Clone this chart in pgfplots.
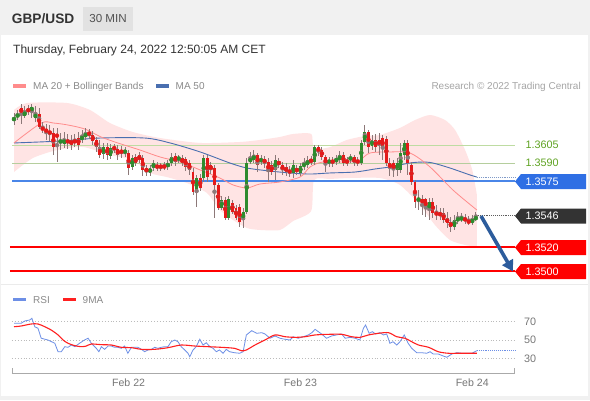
\documentclass[border=0pt]{standalone}
\usepackage{fontspec}
\setmainfont{Liberation Sans}
\usepackage{pgfplots}
\usepackage{pgfplotstable}
\pgfplotsset{compat=1.18}
\usepgfplotslibrary{fillbetween}
\usetikzlibrary{arrows.meta}

\definecolor{bgout}{HTML}{F1F1F1}
\definecolor{minbox}{HTML}{E2E2E2}
\definecolor{titlec}{HTML}{333333}
\definecolor{legc}{HTML}{8A8A8A}
\definecolor{resc}{HTML}{A5A5A5}
\definecolor{bandc}{HTML}{FFE4E4}
\definecolor{ma20c}{HTML}{FF8C8C}
\definecolor{ma50c}{HTML}{4A6FB0}
\definecolor{lvlgreen}{HTML}{BEDCA2}
\definecolor{greentxt}{HTML}{5FA322}
\definecolor{bluelvl}{HTML}{4A86E8}
\definecolor{bluebox}{HTML}{2F6FE4}
\definecolor{darkbox}{HTML}{333333}
\definecolor{redlvl}{HTML}{FF0000}
\definecolor{arrowc}{HTML}{2C5C9C}
\definecolor{cgreen}{HTML}{2E8B2E}
\definecolor{cred}{HTML}{E41A1A}
\definecolor{wick}{HTML}{8C7878}
\definecolor{rsic}{HTML}{6D8FE6}
\definecolor{nmac}{HTML}{FF2020}
\definecolor{gridc}{HTML}{BBBBBB}
\definecolor{axc}{HTML}{AAAAAA}
\definecolor{labc}{HTML}{777777}

\pgfplotstableread{
i o h l c
0 1.36250 1.36317 1.36217 1.36283
1 1.36283 1.36342 1.36258 1.36308
2 1.36358 1.36392 1.36225 1.36317
3 1.36292 1.36375 1.36275 1.36333
4 1.36350 1.36383 1.36300 1.36333
5 1.36333 1.36392 1.36275 1.36367
6 1.36275 1.36375 1.36242 1.36308
7 1.36308 1.36358 1.36183 1.36200
8 1.36200 1.36242 1.36150 1.36175
9 1.36183 1.36225 1.36092 1.36158
10 1.36167 1.36217 1.36083 1.36142
11 1.36150 1.36192 1.35967 1.36033
12 1.36142 1.36192 1.35908 1.36117
13 1.36067 1.36150 1.36008 1.36092
14 1.36058 1.36158 1.36025 1.36100
15 1.36092 1.36142 1.36017 1.36067
16 1.36092 1.36133 1.36008 1.36050
17 1.36092 1.36142 1.36033 1.36067
18 1.36108 1.36158 1.36008 1.36050
19 1.36092 1.36175 1.36067 1.36125
20 1.36117 1.36192 1.36092 1.36150
21 1.36158 1.36183 1.36100 1.36133
22 1.36133 1.36167 1.36050 1.36083
23 1.36092 1.36117 1.35992 1.36033
24 1.36033 1.36092 1.35942 1.35967
25 1.35975 1.36067 1.35933 1.36033
26 1.36033 1.36067 1.35925 1.35967
27 1.35958 1.36058 1.35933 1.36025
28 1.36033 1.36058 1.35983 1.36017
29 1.36017 1.36050 1.35925 1.35967
30 1.36008 1.36042 1.35942 1.35983
31 1.35983 1.36033 1.35950 1.36008
32 1.35983 1.36008 1.35800 1.35858
33 1.35867 1.35967 1.35842 1.35942
34 1.35950 1.35975 1.35875 1.35900
35 1.35967 1.35992 1.35900 1.35925
36 1.35942 1.35967 1.35792 1.35842
37 1.35858 1.35883 1.35792 1.35825
38 1.35817 1.35883 1.35792 1.35858
39 1.35858 1.35925 1.35833 1.35900
40 1.35883 1.35908 1.35833 1.35858
41 1.35883 1.35900 1.35833 1.35858
42 1.35883 1.35908 1.35842 1.35858
43 1.35867 1.35925 1.35842 1.35900
44 1.35900 1.35983 1.35875 1.35950
45 1.35958 1.35983 1.35875 1.35908
46 1.35925 1.35967 1.35900 1.35950
47 1.35942 1.35967 1.35875 1.35900
48 1.35933 1.35950 1.35833 1.35867
49 1.35900 1.35925 1.35800 1.35842
50 1.35825 1.35858 1.35633 1.35658
51 1.35658 1.35800 1.35533 1.35775
52 1.35775 1.35808 1.35667 1.35692
53 1.35775 1.35967 1.35742 1.35942
54 1.35942 1.35967 1.35742 1.35783
55 1.35883 1.35908 1.35808 1.35842
56 1.35858 1.35883 1.35442 1.35717
57 1.35717 1.35733 1.35508 1.35525
58 1.35525 1.35625 1.35508 1.35592
59 1.35592 1.35617 1.35425 1.35442
60 1.35442 1.35625 1.35425 1.35600
61 1.35567 1.35592 1.35475 1.35492
62 1.35525 1.35550 1.35425 1.35442
63 1.35533 1.35558 1.35367 1.35408
64 1.35425 1.35525 1.35358 1.35492
65 1.35492 1.35942 1.35475 1.35900
66 1.35908 1.35992 1.35892 1.35942
67 1.35925 1.36008 1.35900 1.35967
68 1.35967 1.35983 1.35825 1.35883
69 1.35908 1.35967 1.35883 1.35942
70 1.35933 1.35958 1.35858 1.35900
71 1.35908 1.35942 1.35742 1.35825
72 1.35883 1.35917 1.35800 1.35825
73 1.35842 1.35967 1.35758 1.35925
74 1.35917 1.35942 1.35858 1.35883
75 1.35883 1.35908 1.35800 1.35842
76 1.35867 1.35900 1.35792 1.35825
77 1.35842 1.35875 1.35783 1.35817
78 1.35817 1.35925 1.35775 1.35883
79 1.35858 1.35883 1.35800 1.35825
80 1.35817 1.35900 1.35792 1.35875
81 1.35867 1.35942 1.35842 1.35900
82 1.35883 1.35958 1.35858 1.35925
83 1.35933 1.35958 1.35883 1.35908
84 1.35908 1.36050 1.35883 1.36033
85 1.36033 1.36050 1.35958 1.35992
86 1.36008 1.36033 1.35925 1.35950
87 1.35950 1.35967 1.35825 1.35883
88 1.35900 1.35950 1.35867 1.35925
89 1.35925 1.35950 1.35867 1.35900
90 1.35908 1.35967 1.35883 1.35942
91 1.35925 1.36000 1.35900 1.35967
92 1.35967 1.35992 1.35875 1.35900
93 1.35925 1.35950 1.35875 1.35900
94 1.35925 1.35975 1.35900 1.35950
95 1.35950 1.35967 1.35875 1.35900
96 1.35925 1.35950 1.35875 1.35900
97 1.35900 1.36092 1.35883 1.36067
98 1.36075 1.36217 1.36050 1.36158
99 1.36158 1.36175 1.35983 1.36033
100 1.36042 1.36133 1.36008 1.36092
101 1.36092 1.36142 1.35992 1.36033
102 1.36092 1.36150 1.35967 1.36050
103 1.36108 1.36133 1.35925 1.36025
104 1.36100 1.36125 1.35875 1.35900
105 1.35900 1.35942 1.35792 1.35858
106 1.35900 1.35925 1.35783 1.35842
107 1.35842 1.35942 1.35792 1.35900
108 1.35842 1.36067 1.35817 1.35983
109 1.35967 1.36092 1.35925 1.36067
110 1.36067 1.36092 1.35800 1.35900
111 1.35883 1.35908 1.35717 1.35742
112 1.35742 1.35758 1.35525 1.35575
113 1.35592 1.35675 1.35508 1.35600
114 1.35600 1.35633 1.35467 1.35567
115 1.35600 1.35608 1.35450 1.35525
116 1.35508 1.35608 1.35425 1.35575
117 1.35575 1.35608 1.35442 1.35483
118 1.35492 1.35550 1.35425 1.35467
119 1.35483 1.35525 1.35425 1.35467
120 1.35483 1.35525 1.35400 1.35425
121 1.35442 1.35492 1.35358 1.35400
122 1.35408 1.35450 1.35325 1.35367
123 1.35367 1.35467 1.35342 1.35425
124 1.35417 1.35492 1.35392 1.35442
125 1.35425 1.35483 1.35408 1.35450
126 1.35442 1.35475 1.35392 1.35417
127 1.35425 1.35458 1.35383 1.35400
128 1.35408 1.35467 1.35383 1.35425
129 1.35425 1.35492 1.35417 1.35458
}\candles

\pgfplotstableread{
i v
0 1.36067
7.6 1.36233
11 1.36233
15 1.36217
19.8 1.36183
24.3 1.36117
29 1.36067
35.2 1.36008
40.8 1.35950
46.4 1.35908
52 1.35842
57.5 1.35775
61.2 1.35717
65.1 1.35692
68.7 1.35725
74.3 1.35742
79.9 1.35783
82.7 1.35867
86.3 1.35908
93 1.35908
96.6 1.35925
99.4 1.35983
105 1.35992
110.6 1.35983
116.2 1.35867
122.6 1.35675
129.3 1.35508
}\maxx

\pgfplotstableread{
i v
0 1.36067
12.8 1.36083
24 1.36108
36.6 1.36108
43.6 1.36067
52 1.35992
60.3 1.35900
65.1 1.35858
71.5 1.35833
77.1 1.35817
82.7 1.35808
88.3 1.35817
95.3 1.35825
100.8 1.35850
105 1.35867
110.6 1.35900
114.2 1.35908
117 1.35900
121.8 1.35858
127.4 1.35800
129.3 1.35783
}\mafifty

\pgfplotstableread{
i v
0 1.36342
3.6 1.36400
14.8 1.36400
21.2 1.36342
26.8 1.36233
33.2 1.36158
40.8 1.36108
52 1.36067
63.1 1.36075
68.7 1.36092
74.3 1.36117
78 1.36142
83 1.36142
83.8 1.36017
88.3 1.36033
93 1.36092
98 1.36125
102.2 1.36133
107.8 1.36192
112 1.36258
116.2 1.36300
120.4 1.36258
123.2 1.36175
126 1.36008
128 1.35842
129.3 1.35633
}\bbup

\pgfplotstableread{
i v
0 1.35825
5.3 1.35942
12 1.36008
19.3 1.36033
26.8 1.35967
33.2 1.35925
38 1.35817
42.7 1.35783
48.3 1.35733
53.9 1.35650
57.5 1.35508
61.2 1.35425
65.1 1.35358
68.7 1.35342
74.3 1.35342
78 1.35417
83 1.35500
83.8 1.35758
88.3 1.35767
93.9 1.35775
102.2 1.35775
107.8 1.35717
113.4 1.35550
117.6 1.35383
121.8 1.35258
126 1.35217
129.3 1.35200
}\bblo

\pgfplotstableread{
i v
0 68.3
2 68.3
3 70.8
4.4 71.9
5 73.7
5.8 64.5
6.7 62.8
7.6 51.9
9.5 50.0
11.4 46.4
12.3 37.2
13.2 37.2
14.2 42.7
15.1 42.0
16 44.5
17 42.7
18.3 46.4
19.7 50.0
20.7 51.9
21.6 46.4
23 40.9
23.7 37.2
24.4 42.7
25.3 39.8
26.3 43.4
27.2 43.4
28.1 42.0
29 42.0
30 40.9
30.9 43.4
31.8 35.5
32.8 42.0
34.6 42.0
35.6 39.8
36.5 37.2
37.4 39.1
38.4 39.8
39.3 42.0
40.2 40.9
41.1 42.0
42.1 42.7
43 42.7
43.9 48.1
44.9 50.0
45.8 48.1
46.7 42.7
47.7 39.1
48.6 35.5
49.1 31.7
50 39.1
50.9 42.7
51.9 50.8
52.8 44.5
53.7 47.0
54.7 42.7
55.6 40.9
56.5 37.2
57.4 39.1
58.4 35.5
59.3 39.8
60.2 37.2
61.6 36.1
63 35.5
64 37.2
64.9 55.5
66.4 60.2
67.8 57.3
69.2 58.0
70.1 56.6
71.5 51.9
72.9 54.4
74.3 51.9
75.7 50.8
77.1 50.0
78 53.6
79.4 51.9
80.8 53.6
82.2 55.5
83.2 58.0
84.1 61.7
85 59.1
85.9 56.6
87.3 51.9
88.7 54.4
90.1 55.5
91.5 56.6
92.5 51.9
93.9 52.9
95.3 51.9
96.6 50.0
97.6 62.8
98.2 66.4
99.2 57.3
100.1 59.1
101 56.6
102.2 58.0
103.2 55.5
104.1 56.6
105 46.4
105.9 48.1
106.9 44.5
107.8 48.1
109 55.5
110.1 46.4
111.1 40.9
112.5 36.1
113.9 36.1
115.3 35.5
116.2 37.2
117.1 34.7
118.5 34.7
119.9 32.5
120.9 31.1
122.3 34.7
123.7 36.1
125.1 35.5
126.5 35.5
127.9 35.5
129.3 38.3
}\rsi

\pgfplotstableread{
i v
0 64.5
2 65.3
4.8 67.5
6.7 67.5
8.6 64.5
10.4 60.9
12.3 55.5
13.7 50.0
15.1 46.4
17 43.8
18.8 42.7
20.2 43.4
21.6 45.6
24.4 44.9
27.2 44.5
30 42.0
32.8 41.6
35.6 39.8
39.3 39.8
43 41.6
46.7 44.5
50.5 43.4
54.2 42.7
57.9 42.0
61.6 40.9
63.5 38.3
64.9 39.1
67.3 44.5
70.1 50.0
72.9 55.5
75.7 53.6
78.5 52.9
81.3 53.6
84.1 55.5
87.8 56.2
91.5 56.2
94.3 53.6
96.6 52.9
99 55.5
101.8 57.3
104.6 58.0
106.9 53.6
109.2 51.9
111.1 48.1
113 44.5
115.8 42.0
118.5 37.2
121.3 35.5
124.1 35.5
126.9 35.5
129.3 35.5
}\ninema

\newcommand\tagbox[3]{%
  \fill[#2] (515,#1) -- (521,#1+7.5) -- (586,#1+7.5) -- (586,#1-7.5) -- (521,#1-7.5) -- cycle;
  \node[anchor=west, inner sep=0, text=white, font=\fontsize{10.8}{12}\selectfont] at (525.5,#1) {#3};}

\begin{document}
\begin{tikzpicture}
\begin{scope}[x=1pt,y=1pt]
\fill[bgout] (0,0) rectangle (590,400);
\fill[white] (1,4) rectangle (588,365);
\draw[black!8, line width=0.8pt] (1,116) -- (588,116);
% header
\fill[minbox] (82.7,369.3) rectangle (133.3,393.3);
\node[anchor=base west, inner sep=0, text=titlec, font=\bfseries\fontsize{13.7}{16}\selectfont] at (11.7,376) {GBP/USD};
\node[anchor=base, inner sep=0, text=titlec!85, font=\fontsize{11.6}{14}\selectfont] at (108,377.3) {30 MIN};
\node[anchor=base west, inner sep=0, text=titlec, font=\fontsize{12}{14}\selectfont] at (13,346.7) {Thursday, February 24, 2022 12:50:05 AM CET};
% legend
\fill[ma20c] (13,311.7) rectangle (26,316.2);
\node[anchor=base west, inner sep=0, text=legc, font=\fontsize{10}{12}\selectfont] at (33,310) {MA 20 + Bollinger Bands};
\fill[ma50c] (156,311.7) rectangle (168.5,316.2);
\node[anchor=base west, inner sep=0, text=legc, font=\fontsize{10}{12}\selectfont] at (175.5,310) {MA 50};
\node[anchor=base east, inner sep=0, text=resc, font=\fontsize{10}{12}\selectfont] at (581,310.5) {Research \textcopyright{} 2022 Trading Central};
\end{scope}

% main price axis
\begin{axis}[at={(12pt,117pt)}, anchor=south west, scale only axis, width=503pt, height=183pt,
  xmin=-0.559, xmax=139.94, ymin=1.3490, ymax=1.36425, hide axis, clip=false]
  \addplot[draw=none, name path=bu, forget plot, smooth, tension=0.4] table[x=i,y=v]{\bbup};
  \addplot[draw=none, name path=bl, forget plot, smooth, tension=0.4] table[x=i,y=v]{\bblo};
  \addplot[fill=bandc, draw=none, forget plot] fill between[of=bu and bl, on layer=main];
  \addplot[lvlgreen, line width=1pt, forget plot] coordinates {(-0.559,1.3605) (139.94,1.3605)};
  \addplot[lvlgreen!85!gray, line width=1pt, forget plot] coordinates {(-0.559,1.3590) (139.94,1.3590)};
  \addplot[bluelvl, line width=1.5pt, forget plot] coordinates {(-0.559,1.3575) (139.94,1.3575)};
  \addplot[ma50c, line width=0.9pt, smooth, forget plot] table[x=i,y=v]{\mafifty};
  \addplot[ma50c!70, densely dotted, line width=0.9pt, forget plot] coordinates {(129.3,1.35783) (139.94,1.35783)};
  \addplot[ma20c, line width=0.8pt, smooth, forget plot] table[x=i,y=v]{\maxx};
  \addplot[darkbox!80, densely dotted, line width=0.9pt, forget plot] coordinates {(129.6,1.3546) (139.94,1.3546)};
  % wicks
  \addplot[wick, only marks, mark=none, forget plot, error bars/.cd, y dir=both, y explicit, error mark=none,
     error bar style={wick, line width=0.9pt}]
     table[x=i, y expr={(\thisrow{h}+\thisrow{l})/2}, y error expr={(\thisrow{h}-\thisrow{l})/2}]{\candles};
  % bodies
  \addplot[cgreen, only marks, mark=none, forget plot, restrict expr to domain={\thisrow{c}-\thisrow{o}}{0:1},
     error bars/.cd, y dir=both, y explicit, error mark=none, error bar style={cgreen, line width=2.9pt}]
     table[x=i, y expr={(\thisrow{o}+\thisrow{c})/2}, y error expr={abs(\thisrow{c}-\thisrow{o})/2}]{\candles};
  \addplot[cred, only marks, mark=none, forget plot, restrict expr to domain={\thisrow{c}-\thisrow{o}}{-1:0},
     error bars/.cd, y dir=both, y explicit, error mark=none, error bar style={cred, line width=2.9pt}]
     table[x=i, y expr={(\thisrow{o}+\thisrow{c})/2}, y error expr={abs(\thisrow{c}-\thisrow{o})/2}]{\candles};
  \addplot[redlvl, line width=2pt, forget plot] coordinates {(-1.12,1.3520) (139.94,1.3520)};
  \addplot[redlvl, line width=2pt, forget plot] coordinates {(-1.12,1.3500) (139.94,1.3500)};
\end{axis}

% RSI axis
\begin{axis}[at={(12pt,27pt)}, anchor=south west, scale only axis, width=503pt, height=68pt,
  xmin=-0.559, xmax=139.94, ymin=13.93, ymax=88.25, clip=false,
  axis y line=none, axis x line*=bottom, x axis line style={draw=axc, line width=1pt},
  xtick={32,80,128}, xticklabels={Feb 22,Feb 23,Feb 24}, xtick style={draw=none},
  ytick=\empty,
  xticklabel style={text=labc, font=\fontsize{10.6}{12}\selectfont, yshift=-2pt}]
  \addplot[gridc, dotted, line width=0.9pt, forget plot] coordinates {(-0.559,70) (139.94,70)};
  \addplot[gridc, dotted, line width=0.9pt, forget plot] coordinates {(-0.559,50) (139.94,50)};
  \addplot[gridc, dotted, line width=0.9pt, forget plot] coordinates {(-0.559,30) (139.94,30)};
  \addplot[rsic, line width=0.8pt, forget plot] table[x=i,y=v]{\rsi};
  \addplot[rsic, densely dotted, line width=0.9pt, forget plot] coordinates {(129.3,38.3) (139.94,38.3)};
  \addplot[nmac, line width=1.1pt, smooth, tension=0.5, forget plot] table[x=i,y=v]{\ninema};
\end{axis}

\begin{scope}[x=1pt,y=1pt]
% arrow
\draw[arrowc, line width=3.6pt, -{Triangle[width=12pt,length=11pt]}] (481,184) -- (513,128.5);
% level tags
\node[anchor=west, inner sep=0, text=greentxt, font=\fontsize{10.8}{12}\selectfont] at (525.5,255) {1.3605};
\node[anchor=west, inner sep=0, text=greentxt, font=\fontsize{10.8}{12}\selectfont] at (525.5,237) {1.3590};
\tagbox{218.5}{bluebox}{1.3575}
\tagbox{184}{darkbox}{1.3546}
\tagbox{152.5}{redlvl}{1.3520}
\tagbox{128.5}{redlvl}{1.3500}
% RSI legend
\fill[rsic] (13,98.8) rectangle (26,102.5);
\node[anchor=base west, inner sep=0, text=legc, font=\fontsize{10}{12}\selectfont] at (33,96.5) {RSI};
\fill[nmac] (62.5,98.8) rectangle (75.5,102.5);
\node[anchor=base west, inner sep=0, text=legc, font=\fontsize{10}{12}\selectfont] at (82.5,96.5) {9MA};
\draw[axc, line width=1pt] (12.5,27) -- (12.5,32.5);
\draw[axc, line width=1pt] (514.5,27) -- (514.5,32.5);
\node[anchor=west, inner sep=0, text=labc, font=\fontsize{10.8}{12}\selectfont] at (524,78.3) {70};
\node[anchor=west, inner sep=0, text=labc, font=\fontsize{10.8}{12}\selectfont] at (524,60) {50};
\node[anchor=west, inner sep=0, text=labc, font=\fontsize{10.8}{12}\selectfont] at (524,41.7) {30};
\end{scope}
\end{tikzpicture}
\end{document}
